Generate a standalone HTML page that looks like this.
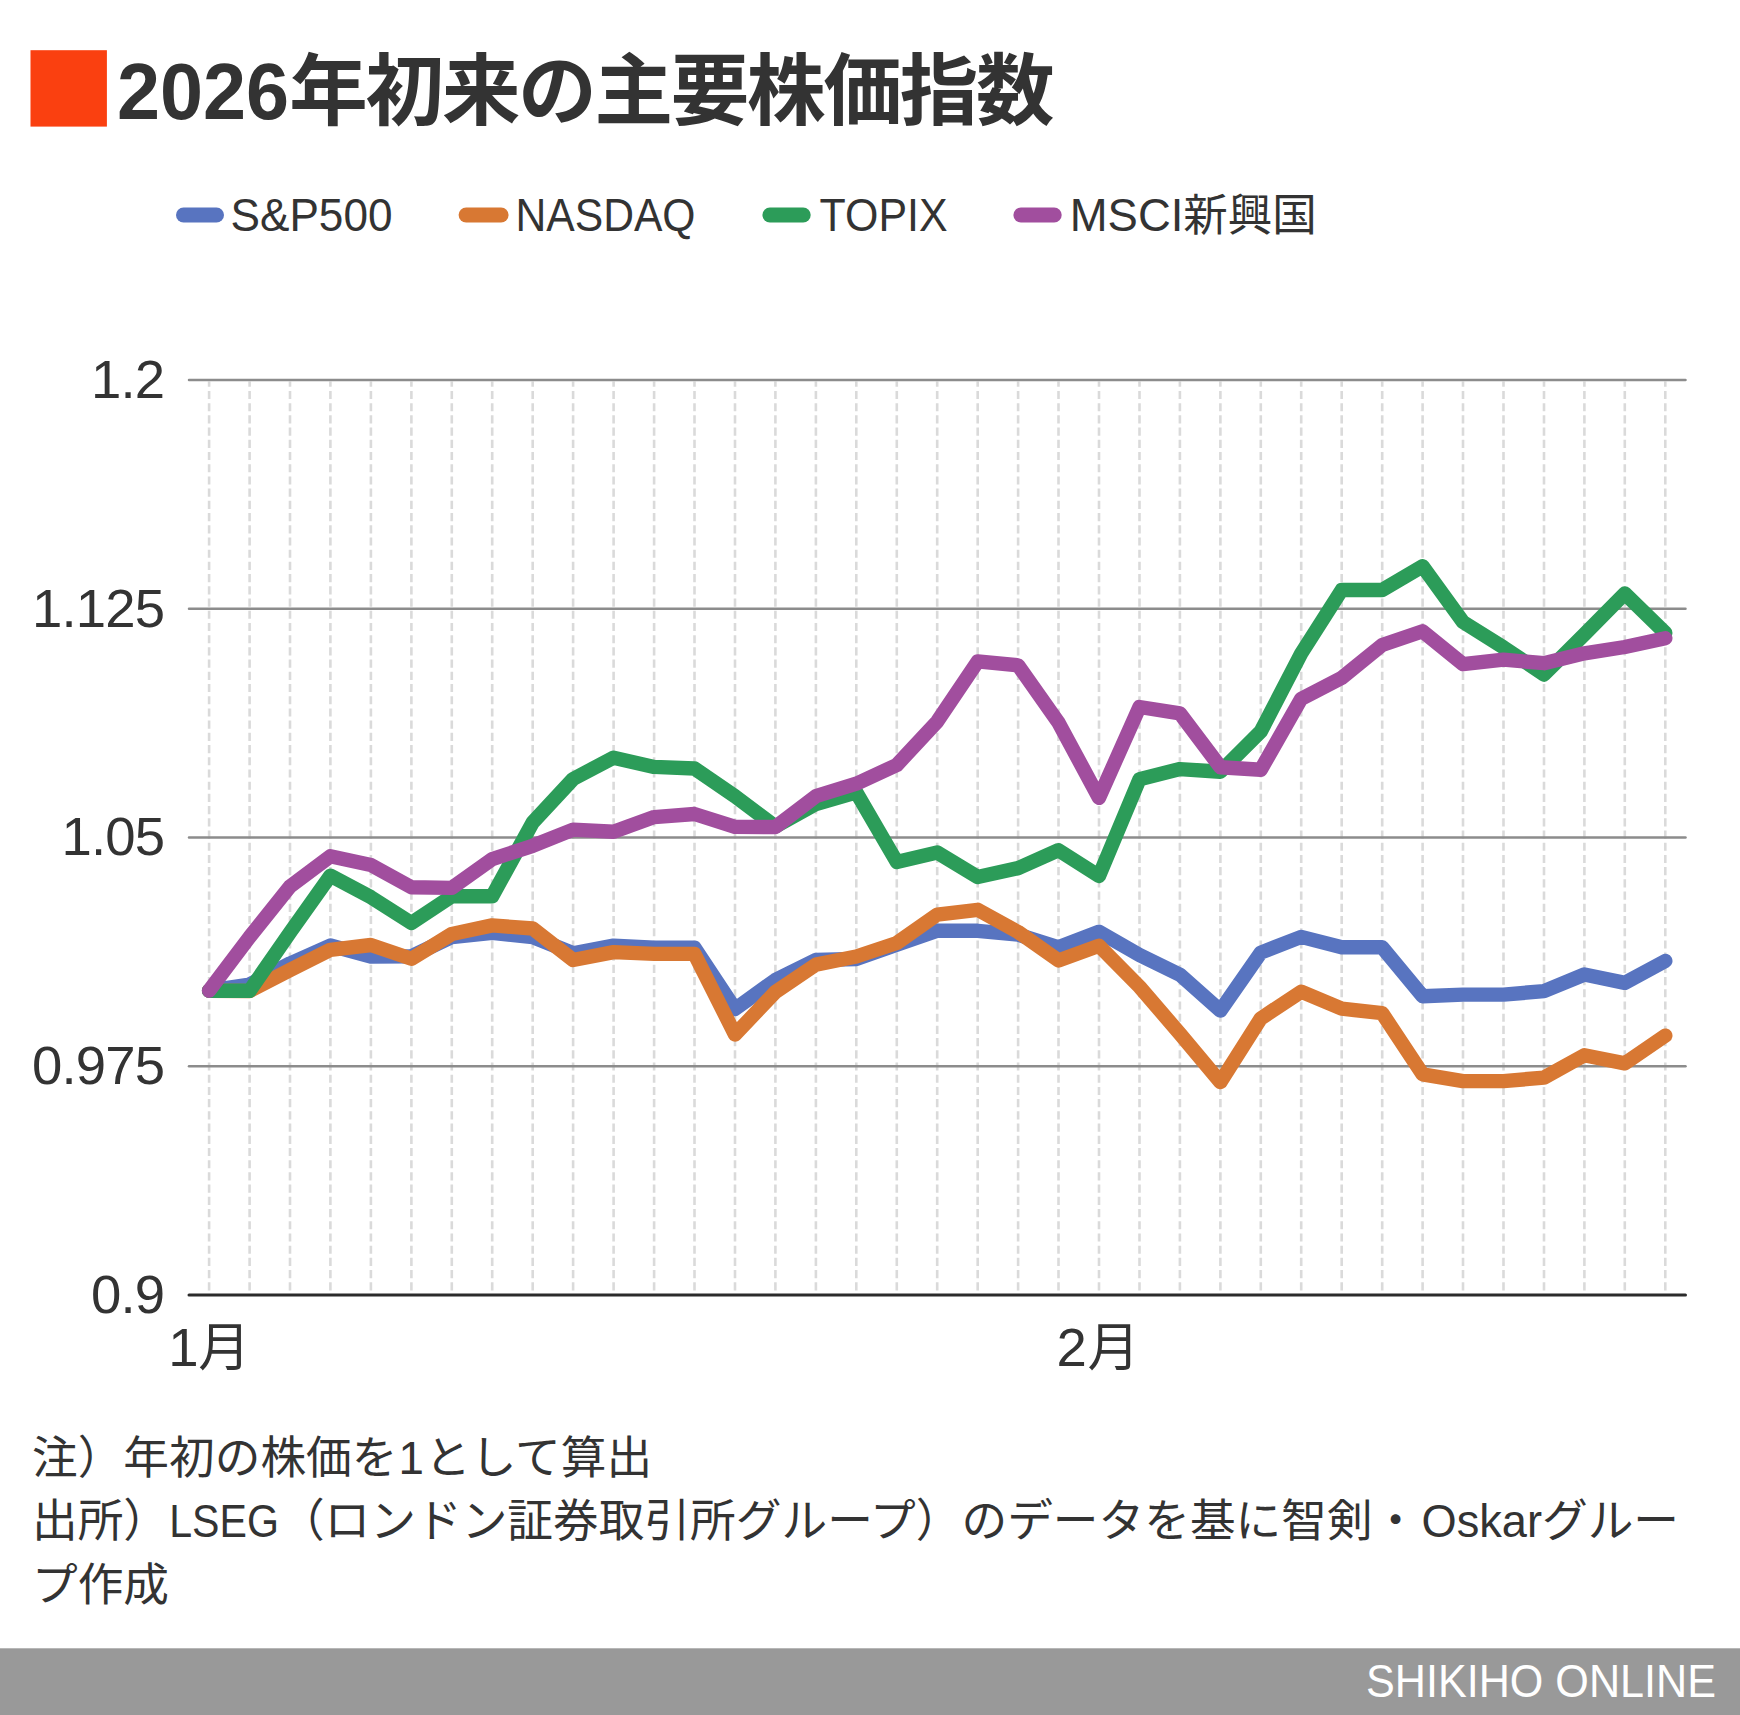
<!DOCTYPE html>
<html lang="ja">
<head>
<meta charset="utf-8">
<title>2026年初来の主要株価指数</title>
<style>
html,body{margin:0;padding:0;background:#ffffff;}
body{width:1740px;height:1715px;overflow:hidden;}
svg{display:block;}
text{font-family:"Liberation Sans","Noto Sans CJK JP",sans-serif;fill:#333333;}
.ttl{font-size:76px;font-weight:bold;}
.lg{font-size:46px;}
.ax{font-size:54.5px;letter-spacing:-0.8px;}
.ft{font-size:45.7px;}
.br{font-size:46px;fill:#ffffff;}
</style>
</head>
<body>
<svg width="1740" height="1715" viewBox="0 0 1740 1715">
<rect x="0" y="0" width="1740" height="1715" fill="#ffffff"/>

<rect x="30.5" y="50.2" width="76.4" height="76.4" fill="#fa4010"/>
<text class="ttl" y="119.3"><tspan x="117" font-size="80" textLength="172" lengthAdjust="spacingAndGlyphs">2026</tspan><tspan x="289.3" font-size="78.5" letter-spacing="-2.2">年初来の主要株価指数</tspan></text>
<line x1="183.5" y1="215" x2="216.5" y2="215" stroke="#5874c0" stroke-width="15" stroke-linecap="round"/>
<text class="lg" x="230.5" y="231.4" textLength="162" lengthAdjust="spacingAndGlyphs">S&amp;P500</text>
<line x1="466.1" y1="215" x2="501.1" y2="215" stroke="#d87833" stroke-width="15" stroke-linecap="round"/>
<text class="lg" x="515.5" y="231.4" textLength="180" lengthAdjust="spacingAndGlyphs">NASDAQ</text>
<line x1="769.9" y1="215" x2="803.2" y2="215" stroke="#2c9c59" stroke-width="15" stroke-linecap="round"/>
<text class="lg" x="819.6" y="231.4" textLength="128" lengthAdjust="spacingAndGlyphs">TOPIX</text>
<line x1="1020.9" y1="215" x2="1054.2" y2="215" stroke="#a14e9e" stroke-width="15" stroke-linecap="round"/>
<text class="lg" y="231.4"><tspan x="1069.8" textLength="113.5" lengthAdjust="spacingAndGlyphs">MSCI</tspan><tspan x="1183.3" font-size="44.5">新興国</tspan></text>
<line x1="209.1" y1="1290.4" x2="209.1" y2="381.5" stroke="#dadada" stroke-width="2.6" stroke-dasharray="8.14 4.07"/>
<line x1="249.6" y1="1290.4" x2="249.6" y2="381.5" stroke="#dadada" stroke-width="2.6" stroke-dasharray="8.14 4.07"/>
<line x1="290.0" y1="1290.4" x2="290.0" y2="381.5" stroke="#dadada" stroke-width="2.6" stroke-dasharray="8.14 4.07"/>
<line x1="330.4" y1="1290.4" x2="330.4" y2="381.5" stroke="#dadada" stroke-width="2.6" stroke-dasharray="8.14 4.07"/>
<line x1="370.9" y1="1290.4" x2="370.9" y2="381.5" stroke="#dadada" stroke-width="2.6" stroke-dasharray="8.14 4.07"/>
<line x1="411.4" y1="1290.4" x2="411.4" y2="381.5" stroke="#dadada" stroke-width="2.6" stroke-dasharray="8.14 4.07"/>
<line x1="451.8" y1="1290.4" x2="451.8" y2="381.5" stroke="#dadada" stroke-width="2.6" stroke-dasharray="8.14 4.07"/>
<line x1="492.2" y1="1290.4" x2="492.2" y2="381.5" stroke="#dadada" stroke-width="2.6" stroke-dasharray="8.14 4.07"/>
<line x1="532.7" y1="1290.4" x2="532.7" y2="381.5" stroke="#dadada" stroke-width="2.6" stroke-dasharray="8.14 4.07"/>
<line x1="573.1" y1="1290.4" x2="573.1" y2="381.5" stroke="#dadada" stroke-width="2.6" stroke-dasharray="8.14 4.07"/>
<line x1="613.6" y1="1290.4" x2="613.6" y2="381.5" stroke="#dadada" stroke-width="2.6" stroke-dasharray="8.14 4.07"/>
<line x1="654.1" y1="1290.4" x2="654.1" y2="381.5" stroke="#dadada" stroke-width="2.6" stroke-dasharray="8.14 4.07"/>
<line x1="694.5" y1="1290.4" x2="694.5" y2="381.5" stroke="#dadada" stroke-width="2.6" stroke-dasharray="8.14 4.07"/>
<line x1="735.0" y1="1290.4" x2="735.0" y2="381.5" stroke="#dadada" stroke-width="2.6" stroke-dasharray="8.14 4.07"/>
<line x1="775.4" y1="1290.4" x2="775.4" y2="381.5" stroke="#dadada" stroke-width="2.6" stroke-dasharray="8.14 4.07"/>
<line x1="815.9" y1="1290.4" x2="815.9" y2="381.5" stroke="#dadada" stroke-width="2.6" stroke-dasharray="8.14 4.07"/>
<line x1="856.3" y1="1290.4" x2="856.3" y2="381.5" stroke="#dadada" stroke-width="2.6" stroke-dasharray="8.14 4.07"/>
<line x1="896.8" y1="1290.4" x2="896.8" y2="381.5" stroke="#dadada" stroke-width="2.6" stroke-dasharray="8.14 4.07"/>
<line x1="937.2" y1="1290.4" x2="937.2" y2="381.5" stroke="#dadada" stroke-width="2.6" stroke-dasharray="8.14 4.07"/>
<line x1="977.7" y1="1290.4" x2="977.7" y2="381.5" stroke="#dadada" stroke-width="2.6" stroke-dasharray="8.14 4.07"/>
<line x1="1018.1" y1="1290.4" x2="1018.1" y2="381.5" stroke="#dadada" stroke-width="2.6" stroke-dasharray="8.14 4.07"/>
<line x1="1058.5" y1="1290.4" x2="1058.5" y2="381.5" stroke="#dadada" stroke-width="2.6" stroke-dasharray="8.14 4.07"/>
<line x1="1099.0" y1="1290.4" x2="1099.0" y2="381.5" stroke="#dadada" stroke-width="2.6" stroke-dasharray="8.14 4.07"/>
<line x1="1139.5" y1="1290.4" x2="1139.5" y2="381.5" stroke="#dadada" stroke-width="2.6" stroke-dasharray="8.14 4.07"/>
<line x1="1179.9" y1="1290.4" x2="1179.9" y2="381.5" stroke="#dadada" stroke-width="2.6" stroke-dasharray="8.14 4.07"/>
<line x1="1220.4" y1="1290.4" x2="1220.4" y2="381.5" stroke="#dadada" stroke-width="2.6" stroke-dasharray="8.14 4.07"/>
<line x1="1260.8" y1="1290.4" x2="1260.8" y2="381.5" stroke="#dadada" stroke-width="2.6" stroke-dasharray="8.14 4.07"/>
<line x1="1301.2" y1="1290.4" x2="1301.2" y2="381.5" stroke="#dadada" stroke-width="2.6" stroke-dasharray="8.14 4.07"/>
<line x1="1341.7" y1="1290.4" x2="1341.7" y2="381.5" stroke="#dadada" stroke-width="2.6" stroke-dasharray="8.14 4.07"/>
<line x1="1382.2" y1="1290.4" x2="1382.2" y2="381.5" stroke="#dadada" stroke-width="2.6" stroke-dasharray="8.14 4.07"/>
<line x1="1422.6" y1="1290.4" x2="1422.6" y2="381.5" stroke="#dadada" stroke-width="2.6" stroke-dasharray="8.14 4.07"/>
<line x1="1463.0" y1="1290.4" x2="1463.0" y2="381.5" stroke="#dadada" stroke-width="2.6" stroke-dasharray="8.14 4.07"/>
<line x1="1503.5" y1="1290.4" x2="1503.5" y2="381.5" stroke="#dadada" stroke-width="2.6" stroke-dasharray="8.14 4.07"/>
<line x1="1544.0" y1="1290.4" x2="1544.0" y2="381.5" stroke="#dadada" stroke-width="2.6" stroke-dasharray="8.14 4.07"/>
<line x1="1584.4" y1="1290.4" x2="1584.4" y2="381.5" stroke="#dadada" stroke-width="2.6" stroke-dasharray="8.14 4.07"/>
<line x1="1624.8" y1="1290.4" x2="1624.8" y2="381.5" stroke="#dadada" stroke-width="2.6" stroke-dasharray="8.14 4.07"/>
<line x1="1665.3" y1="1290.4" x2="1665.3" y2="381.5" stroke="#dadada" stroke-width="2.6" stroke-dasharray="8.14 4.07"/>
<line x1="189" y1="379.9" x2="1685.5" y2="379.9" stroke="#8c8c8c" stroke-width="2.5" stroke-linecap="round"/>
<line x1="189" y1="608.8" x2="1685.5" y2="608.8" stroke="#8c8c8c" stroke-width="2.5" stroke-linecap="round"/>
<line x1="189" y1="837.5" x2="1685.5" y2="837.5" stroke="#8c8c8c" stroke-width="2.5" stroke-linecap="round"/>
<line x1="189" y1="1066.3" x2="1685.5" y2="1066.3" stroke="#8c8c8c" stroke-width="2.5" stroke-linecap="round"/>
<line x1="189" y1="1295" x2="1685.5" y2="1295" stroke="#2b2b2b" stroke-width="3" stroke-linecap="round"/>
<text class="ax" x="164.3" y="397.8" text-anchor="end">1.2</text>
<text class="ax" x="164.3" y="626.7" text-anchor="end">1.125</text>
<text class="ax" x="164.3" y="855.4" text-anchor="end">1.05</text>
<text class="ax" x="164.3" y="1084.2" text-anchor="end">0.975</text>
<text class="ax" x="164.3" y="1312.9" text-anchor="end">0.9</text>
<text class="ax" y="1365.6"><tspan x="168.3">1</tspan><tspan x="198.2" font-size="52">月</tspan></text>
<text class="ax" y="1365.6"><tspan x="1056.6">2</tspan><tspan x="1087.6" font-size="52">月</tspan></text>
<polyline points="209.1,990.7 249.6,984.5 290.0,963.5 330.4,945.5 370.9,956.6 411.4,956.2 451.8,937.0 492.2,932.8 532.7,937.0 573.1,953.3 613.6,945.7 654.1,947.6 694.5,947.6 735.0,1009.0 775.4,980.0 815.9,960.0 856.3,959.0 896.8,944.8 937.2,930.7 977.7,930.8 1018.1,934.5 1058.5,947.3 1099.0,931.7 1139.5,955.0 1179.9,974.7 1220.4,1010.6 1260.8,952.6 1301.2,936.9 1341.7,947.3 1382.2,947.3 1422.6,996.2 1463.0,994.6 1503.5,994.6 1544.0,991.1 1584.4,974.5 1624.8,982.9 1665.3,961.0" fill="none" stroke="#5874c0" stroke-width="14.4" stroke-linejoin="round" stroke-linecap="round"/>
<polyline points="209.1,990.7 249.6,991.0 290.0,970.0 330.4,949.8 370.9,945.0 411.4,958.8 451.8,934.0 492.2,925.4 532.7,928.5 573.1,960.0 613.6,952.1 654.1,953.9 694.5,953.9 735.0,1034.5 775.4,992.0 815.9,964.6 856.3,956.5 896.8,943.0 937.2,914.7 977.7,909.8 1018.1,932.0 1058.5,960.4 1099.0,945.7 1139.5,986.8 1179.9,1033.7 1220.4,1082.1 1260.8,1018.4 1301.2,991.7 1341.7,1008.7 1382.2,1013.2 1422.6,1074.3 1463.0,1081.1 1503.5,1081.1 1544.0,1077.6 1584.4,1055.2 1624.8,1063.4 1665.3,1035.6" fill="none" stroke="#d87833" stroke-width="14.4" stroke-linejoin="round" stroke-linecap="round"/>
<polyline points="209.1,990.7 249.6,990.8 290.0,932.5 330.4,875.7 370.9,897.2 411.4,923.0 451.8,896.2 492.2,896.2 532.7,822.5 573.1,779.0 613.6,757.7 654.1,766.9 694.5,768.5 735.0,796.2 775.4,826.5 815.9,804.0 856.3,792.3 896.8,862.0 937.2,852.5 977.7,877.0 1018.1,868.1 1058.5,850.2 1099.0,876.0 1139.5,779.2 1179.9,769.1 1220.4,771.7 1260.8,731.4 1301.2,653.5 1341.7,590.0 1382.2,590.0 1422.6,566.2 1463.0,622.0 1503.5,647.4 1544.0,674.5 1584.4,634.3 1624.8,593.5 1665.3,633.0" fill="none" stroke="#2c9c59" stroke-width="14.4" stroke-linejoin="round" stroke-linecap="round"/>
<polyline points="209.1,990.7 249.6,937.0 290.0,886.5 330.4,856.2 370.9,865.0 411.4,887.3 451.8,887.9 492.2,859.1 532.7,845.8 573.1,829.6 613.6,831.8 654.1,817.1 694.5,814.0 735.0,826.9 775.4,827.0 815.9,796.2 856.3,783.7 896.8,765.0 937.2,721.6 977.7,661.4 1018.1,665.3 1058.5,722.6 1099.0,797.8 1139.5,707.0 1179.9,713.4 1220.4,767.2 1260.8,769.7 1301.2,698.8 1341.7,677.9 1382.2,645.0 1422.6,631.3 1463.0,664.2 1503.5,659.7 1544.0,663.2 1584.4,653.3 1624.8,647.0 1665.3,638.2" fill="none" stroke="#a14e9e" stroke-width="14.4" stroke-linejoin="round" stroke-linecap="round"/>
<text class="ft" y="1473.5"><tspan x="32">注）年初の株価を</tspan><tspan x="398.5">1</tspan><tspan x="425.1">として算出</tspan></text>
<text class="ft" y="1536.5"><tspan x="32">出所）</tspan><tspan x="169.2" textLength="109.7" lengthAdjust="spacingAndGlyphs">LSEG</tspan><tspan x="278.9">（ロンドン証券取引所グループ）のデータを基に智剣・</tspan><tspan x="1421.5" textLength="120.5" lengthAdjust="spacingAndGlyphs">Oskar</tspan><tspan x="1542">グルー</tspan></text>
<text class="ft" x="32" y="1600.7">プ作成</text>
<rect x="0" y="1648.3" width="1740" height="67" fill="#999999"/>
<text class="br" x="1366" y="1697" textLength="350" lengthAdjust="spacingAndGlyphs">SHIKIHO ONLINE</text>
</svg>
</body>
</html>
